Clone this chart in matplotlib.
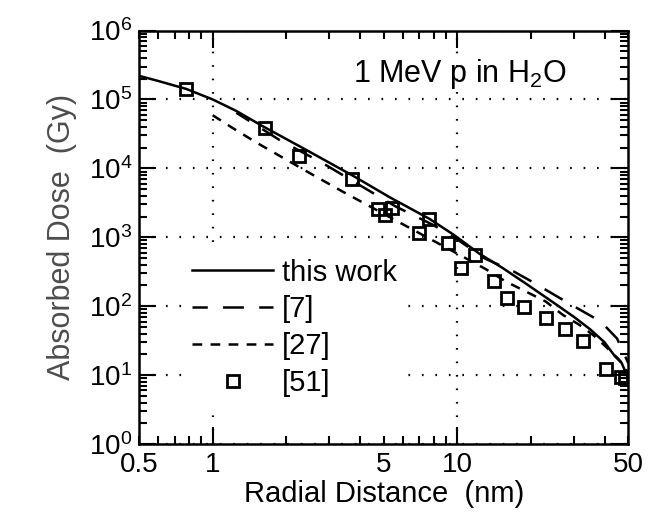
import math
import matplotlib
matplotlib.use("Agg")
import matplotlib.pyplot as plt
from matplotlib.ticker import FixedLocator, FuncFormatter, LogLocator, NullFormatter

plt.rcParams.update({
    "font.family": "Liberation Sans",
    "mathtext.fontset": "custom",
    "mathtext.rm": "Liberation Sans",
    "mathtext.it": "Liberation Sans:italic",
    "mathtext.bf": "Liberation Sans:bold",
    "lines.scale_dashes": False,
})

# this work
r_this = [0.5, 0.6, 0.78, 1.0, 1.25, 1.6, 2.35, 3.75, 5.3, 7.7, 9.7, 12.3, 15.3,
          19.0, 25.0, 30.0, 35.0, 40.0, 44.0, 47.0, 50.0]
d_this = [2.2e5, 1.85e5, 1.42e5, 1.0e5, 6.8e4, 4.1e4, 1.95e4, 7.8e3, 3.8e3, 1.85e3,
          1.08e3, 580, 360, 215, 110, 70, 46, 30, 19, 15, 9]

# ref [7]
r_7 = [1.25, 1.88, 2.83, 4.1, 5.6, 8.0, 10.0, 13.0, 17.0, 20.3, 28.6, 38.6, 45.0, 50.0]
d_7 = [6.4e4, 2.57e4, 1.18e4, 5.4e3, 2.8e3, 1.5e3, 930, 490, 320, 225, 110, 60, 34, 15]

# ref [27]
r_27 = [1.0, 1.2, 1.5, 2.5, 3.4, 5.6, 7.9, 10.0, 13.1, 15.8, 19.1, 23.0, 27.0, 31.5,
        36.0, 40.0, 45.0, 48.0, 50.0]
d_27 = [5.9e4, 3.9e4, 2.4e4, 8.5e3, 4.6e3, 1.76e3, 910, 580, 344, 228, 163, 117, 75,
        54, 38, 27, 18, 14, 10]

# ref [51], data points
r_51 = [0.78, 1.64, 2.26, 3.72, 4.75, 5.05, 5.4, 7.0, 7.7, 9.15, 10.4, 11.8, 14.1,
        16.0, 18.7, 23.0, 27.5, 32.7, 40.7, 46.8, 48.5]
d_51 = [1.44e5, 3.8e4, 1.5e4, 6.9e3, 2.55e3, 2.1e3, 2.65e3, 1.15e3, 1.85e3, 820, 356,
        545, 230, 131, 98, 67, 46, 31.7, 12.2, 9.5, 9.0]

x_labels = {0.5: "0.5", 1: "1", 5: "5", 10: "10", 50: "50"}


def x_fmt(v, pos):
    key = round(v, 2) if v < 1 else int(round(v))
    return x_labels.get(key, "")


def y_fmt(v, pos):
    return r"$\mathregular{10^{%d}}$" % round(math.log10(v))


fig = plt.figure(figsize=(6.62, 5.17), dpi=100)
ax = fig.add_axes([0.21, 0.141, 0.739, 0.8])

ax.plot(r_this, d_this, "-", color="black", lw=1.8, label="this work")
ax.plot(r_7, d_7, color="black", lw=1.8, linestyle=(4, (15, 11)), label="[7]")
ax.plot(r_27, d_27, color="black", lw=1.8, linestyle=(0, (7, 6)), label="[27]")
ax.plot(r_51, d_51, "s", mfc="none", mec="black", mew=2.0, ms=9, label="[51]")

ax.set_xscale("log")
ax.set_yscale("log")
ax.set_xlim(0.5, 50)
ax.set_ylim(1, 1e6)

ax.xaxis.set_major_locator(FixedLocator([1, 10]))
ax.xaxis.set_minor_locator(FixedLocator([0.5, 0.6, 0.7, 0.8, 0.9, 2, 3, 4, 5, 6, 7, 8, 9,
                                         20, 30, 40, 50]))
ax.xaxis.set_major_formatter(FuncFormatter(x_fmt))
ax.xaxis.set_minor_formatter(FuncFormatter(x_fmt))

ax.yaxis.set_major_locator(LogLocator(base=10, numticks=10))
ax.yaxis.set_minor_locator(LogLocator(base=10, subs=range(2, 10), numticks=10))
ax.yaxis.set_minor_formatter(NullFormatter())
ax.yaxis.set_major_formatter(FuncFormatter(y_fmt))

ax.tick_params(which="both", direction="in", top=True, right=True, width=1.5,
               labelsize=20)
ax.tick_params(which="major", length=12)
ax.tick_params(which="minor", length=6)
ax.tick_params(axis="x", which="both", pad=6)
ax.tick_params(axis="y", which="both", pad=5)
for s in ax.spines.values():
    s.set_linewidth(1.8)

ax.grid(True, which="major", color="black", lw=1.6, linestyle=(0, (1.2, 8.5)))
ax.set_axisbelow(True)

ax.set_xlabel("Radial Distance  (nm)", fontsize=21, labelpad=1)
ax.set_ylabel("Absorbed Dose  (Gy)", fontsize=22, color="0.3", labelpad=8)

ax.text(0.438, 0.875, r"1 MeV p in H$_\mathregular{2}$O", transform=ax.transAxes,
        fontsize=22, va="baseline", ha="left")

leg = ax.legend(loc="lower left", bbox_to_anchor=(0.09, 0.093), fontsize=21,
                handlelength=2.8, handletextpad=0.3, labelspacing=0.3,
                borderpad=0.3, numpoints=1, frameon=True, fancybox=False,
                framealpha=1.0, facecolor="white", edgecolor="none",
                borderaxespad=0)

fig.savefig("out.png", dpi=100)
